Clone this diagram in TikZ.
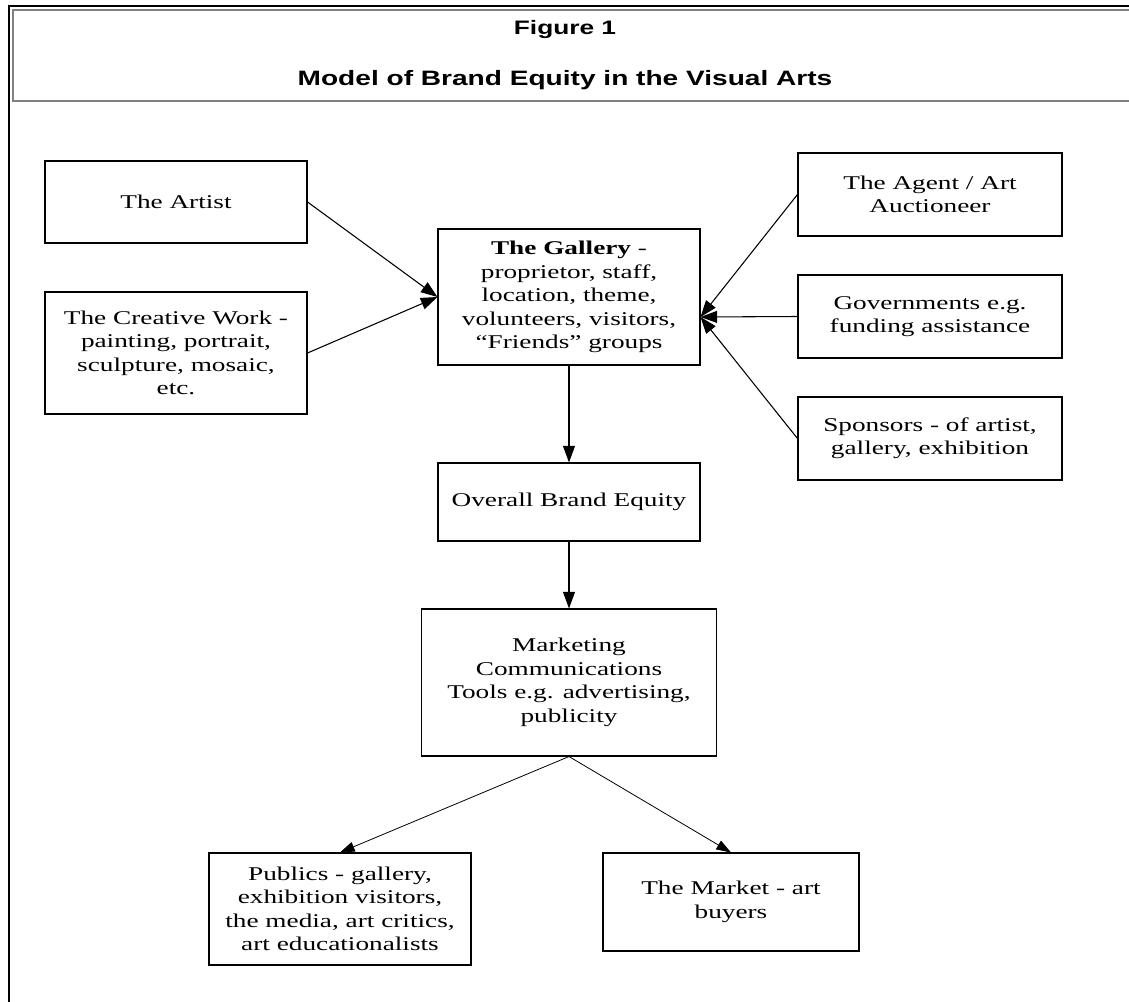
\documentclass[tikz,border=0pt]{standalone}
\usepackage{fontspec}
\setmainfont{Liberation Serif}[FakeStretch=1.4]
\newfontfamily\hdrfont{Liberation Sans}[FakeStretch=1.35]
\usetikzlibrary{arrows.meta,calc}
\tikzset{
  bx/.style n args={2}{draw=black, line width=0.8pt, align=center, inner sep=0pt,
    minimum width=#1*0.75pt, minimum height=#2*0.75pt,
    font=\fontsize{14.6pt}{17.6pt}\selectfont},
  arr/.style={draw=black, line width=0.8pt, -{Triangle[length=12.5pt,width=9pt]}},
  arrthin/.style={draw=black, line width=0.6pt, -{Triangle[length=11pt,width=7.5pt]}},
  hdr/.style={font=\hdrfont\bfseries\fontsize{14.6pt}{17pt}\selectfont},
  hdrbig/.style={font=\hdrfont\bfseries\fontsize{15.6pt}{18pt}\selectfont}
}
\begin{document}
\begin{tikzpicture}[x=0.75pt,y=-0.75pt]
\useasboundingbox (0,0) rectangle (1129,1002);
% outer frame
\draw[line width=2.2pt, line cap=rect] (9,1002) -- (9,6) -- (1129,6);
% header box
\draw[gray, line width=1.4pt] (1129,10) -- (13,10) -- (13,101) -- (1129,101);
\node[hdr] (fig) at (565,30) {Figure 1};
\node[hdrbig] (ttl) at (565,80) {Model of Brand Equity in the Visual Arts};
% boxes
\node[bx={262}{82}]  (artist)   at (176,202)   {The Artist};
\node[bx={262}{122}] (creative) at (176,353)   {The Creative Work -\\painting, portrait,\\sculpture, mosaic,\\etc.};
\node[bx={262}{136}] (gal)      at (569,297)   {\textbf{The Gallery} -\\proprietor, staff,\\location, theme,\\volunteers, visitors,\\“Friends” groups};
\node[bx={264}{83}]  (agent)    at (930,194.5) {The Agent / Art\\Auctioneer};
\node[bx={264}{83}]  (govt)     at (930,316.5) {Governments e.g.\\funding assistance};
\node[bx={264}{83}]  (spons)    at (930,438.5) {Sponsors - of artist,\\gallery, exhibition};
\node[bx={262}{78}]  (overall)  at (569,502)   {Overall Brand Equity};
\node[bx={295}{147}] (mkt)      at (569,682.5) {Marketing\\Communications\\Tools e.g. advertising,\\publicity};
\node[bx={262}{112}] (publics)  at (340,909)   {Publics - gallery,\\exhibition visitors,\\the media, art critics,\\art educationalists};
\node[bx={256}{98}]  (market)   at (731,902)   {The Market - art\\buyers};
\coordinate (galR) at ([yshift=-15pt]gal.east);
% connectors
\draw[arr] (artist.east) -- (gal.west);
\draw[arr] (creative.east) -- (gal.west);
\draw[arr] (agent.west) -- (galR);
\draw[arr] (govt.west) -- (galR);
\draw[arr] (spons.west) -- (galR);
\draw[arr] (gal.south) -- (overall.north);
\draw[arr] (overall.south) -- (mkt.north);
\draw[arrthin] (mkt.south) -- (publics.north);
\draw[arrthin] (mkt.south) -- (market.north);
\end{tikzpicture}
\end{document}
